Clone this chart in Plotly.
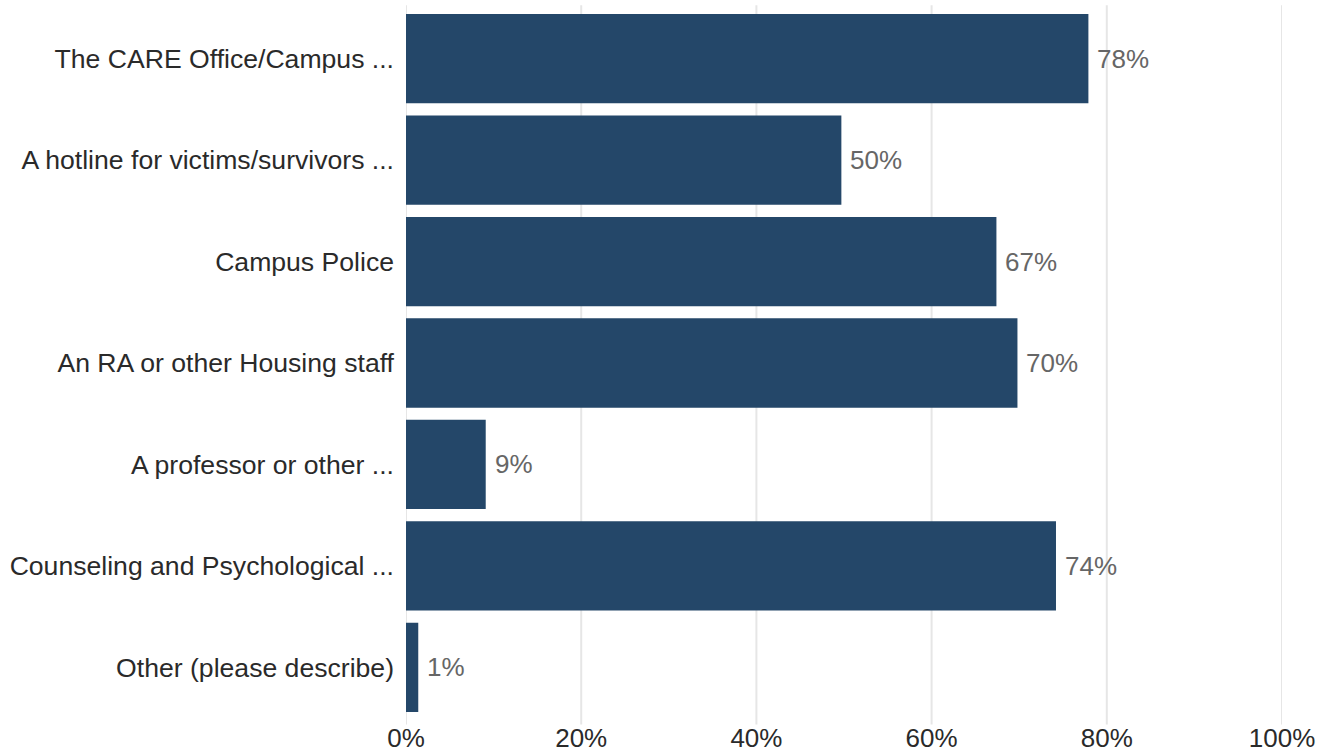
import plotly.graph_objects as go

categories = [
    "The CARE Office/Campus ...",
    "A hotline for victims/survivors ...",
    "Campus Police",
    "An RA or other Housing staff",
    "A professor or other ...",
    "Counseling and Psychological ...",
    "Other (please describe)",
]
shares = [77.9, 49.7, 67.4, 69.8, 9.1, 74.2, 1.4]
tick_values = [0, 20, 40, 60, 80, 100]
tick_labels = ["0%", "20%", "40%", "60%", "80%", "100%"]

BAR_COLOR = "#244769"
GRID_COLOR = "#e6e6e6"
FONT = "Liberation Sans, Arial, sans-serif"

fig = go.Figure(
    go.Bar(
        x=shares,
        y=categories,
        orientation="h",
        marker=dict(color=BAR_COLOR, line=dict(width=0)),
        hoverinfo="skip",
    )
)

# Value labels just to the right of each bar
for cat, v in zip(categories, shares):
    fig.add_annotation(
        x=v, y=cat, xref="x", yref="y",
        text=f"{v:.0f}%",
        showarrow=False,
        xanchor="left", yanchor="middle",
        xshift=7,
        font=dict(family=FONT, size=26, color="#666666"),
    )

# Vertical grid lines, running a little past the bar area
for t in tick_values:
    fig.add_shape(
        type="line", xref="x", yref="paper",
        x0=t, x1=t, y0=-0.009, y1=1.004,
        line=dict(color=GRID_COLOR, width=2),
        layer="below",
    )

fig.update_layout(
    width=1329,
    height=756,
    margin=dict(l=406, r=47, t=8, b=38, autoexpand=False),
    paper_bgcolor="white",
    plot_bgcolor="white",
    bargap=0.12,
    showlegend=False,
    font=dict(family=FONT, size=26, color="#333333"),
)

fig.update_xaxes(
    range=[0, 100],
    tickvals=tick_values,
    ticktext=tick_labels,
    showgrid=False,
    zeroline=False,
    showline=False,
    ticks="",
    automargin=False,
    ticklabelstandoff=2,
    tickfont=dict(family=FONT, size=26, color="#2a2a2a"),
    fixedrange=True,
)

fig.update_yaxes(
    autorange="reversed",
    showgrid=False,
    zeroline=False,
    showline=False,
    ticks="",
    automargin=False,
    ticklabelstandoff=11,
    tickfont=dict(family=FONT, size=26.6, color="#2a2a2a"),
    fixedrange=True,
)

fig.write_html("out.html", config={"displayModeBar": False})
